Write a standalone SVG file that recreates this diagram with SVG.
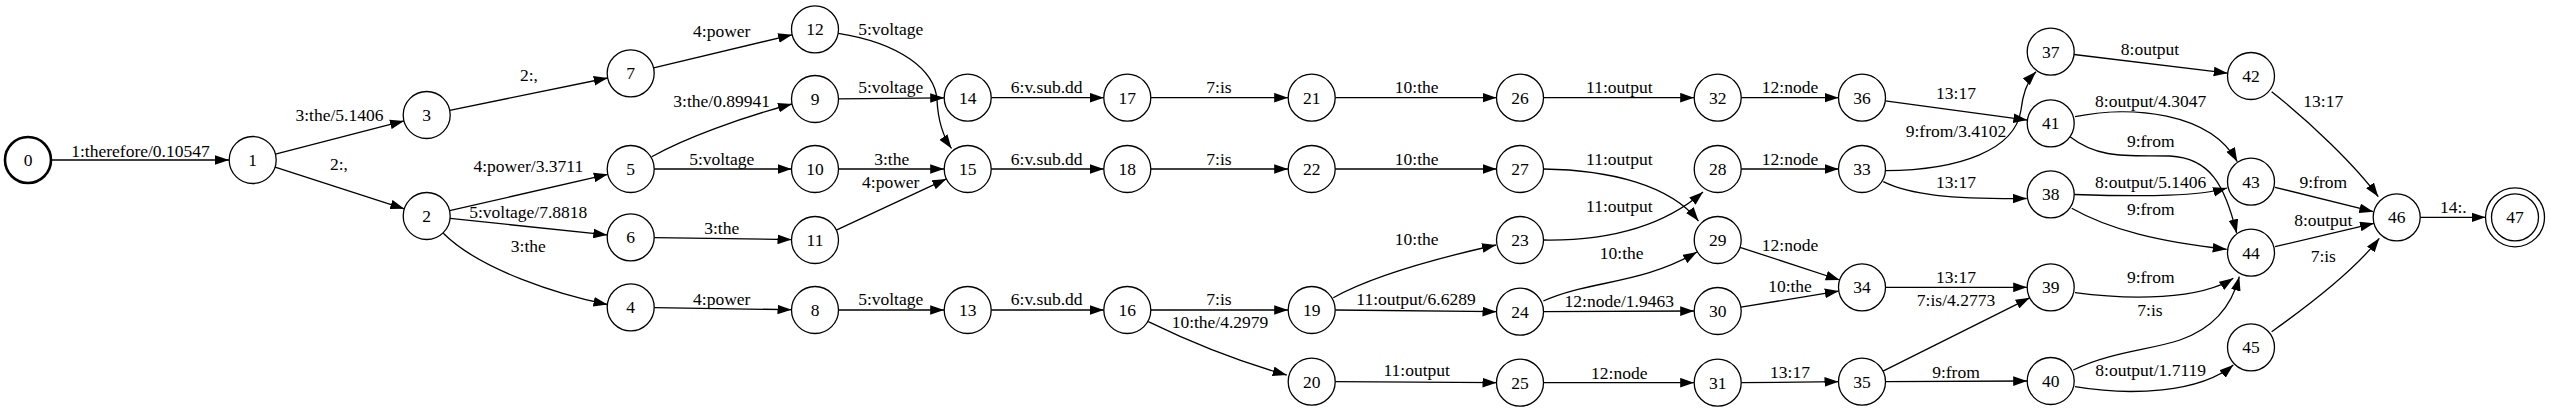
<svg xmlns="http://www.w3.org/2000/svg" width="2550" height="412" viewBox="0 0 2550 412">
<style>
text{font-family:"Liberation Serif","Times New Roman",serif;font-size:17.5px;text-anchor:middle;fill:#000}
.n circle{fill:#fff;stroke:#000;stroke-width:1.3}
.e path{fill:none;stroke:#000;stroke-width:1.3;marker-end:url(#a)}
</style>
<defs>
<marker id="a" markerUnits="userSpaceOnUse" markerWidth="14" markerHeight="10" refX="13" refY="4.5" orient="auto" viewBox="0 0 13 9"><path d="M0,0 L13,4.5 L0,9 Z" fill="#000"/></marker>
</defs>
<rect width="2550" height="412" fill="#fff"/>
<g id="edges" class="e">
<path d="M51.5,160 L229,160"/>
<path d="M275.4,154.1 L404,120.9"/>
<path d="M275.1,167.2 L404.3,208.8"/>
<path d="M449.7,110.3 L607.7,78"/>
<path d="M653.6,67.8 L792.1,34.8"/>
<path d="M449.6,210.7 L607.8,174.3"/>
<path d="M450.1,218.4 L607.3,234.9"/>
<path d="M443.3,233.3 C480,270 560,295 607.5,304.5"/>
<path d="M651.7,156.7 C685,138 740,118 792,104"/>
<path d="M654.2,169 L791.5,169"/>
<path d="M654.2,237.7 L791.5,239.6"/>
<path d="M654.2,307.6 L791.5,309.7"/>
<path d="M838.3,33.3 C900,43 935,70 937,100 C938,120 942,135 951.5,148.5"/>
<path d="M838.5,98.8 L944.2,97.9"/>
<path d="M838.5,169 L944.2,169"/>
<path d="M836.3,230.1 L946.4,178.9"/>
<path d="M838.5,310 L944.2,310"/>
<path d="M991.2,97.7 L1103.8,97.7"/>
<path d="M991.2,169 L1103.8,169"/>
<path d="M991.2,310 L1103.8,310"/>
<path d="M1150.8,97.7 L1288.2,97.7"/>
<path d="M1150.8,169 L1288.2,169"/>
<path d="M1150.8,310 L1288.2,310"/>
<path d="M1148.3,321.7 C1190,342 1240,362 1286.7,375"/>
<path d="M1335.2,97.7 L1496.5,97.7"/>
<path d="M1335.2,169 L1496.5,169"/>
<path d="M1333.3,297.7 C1365,280 1420,262 1496,245"/>
<path d="M1335.2,310 L1496.5,311.7"/>
<path d="M1335.2,381.7 L1496.5,382.7"/>
<path d="M1543.5,97.7 L1694.2,97.7"/>
<path d="M1543.5,169 C1610,170 1670,185 1698.5,221"/>
<path d="M1543.5,240 C1610,241 1665,225 1703,192"/>
<path d="M1543.3,301 C1590,280 1640,285 1697,252"/>
<path d="M1543.5,311.7 L1694.2,311"/>
<path d="M1543.5,382.7 L1694.2,382.7"/>
<path d="M1741.2,97.7 L1838.5,97.7"/>
<path d="M1741.2,169 L1838.5,169"/>
<path d="M1740,247.3 L1839.7,280"/>
<path d="M1740.9,307.2 L1838.8,291.1"/>
<path d="M1741.2,382.7 L1838.5,381.7"/>
<path d="M1885.3,100.8 L2027.4,120.1"/>
<path d="M1885.5,170.7 C1960,170 2015,150 2021,110 C2023,92 2028,80 2036,71.7"/>
<path d="M1883.3,181.7 C1910,195 1950,199 2026.7,198.5"/>
<path d="M1885.5,287.3 L2027.2,287.3"/>
<path d="M1883,371.2 L2029.7,297.8"/>
<path d="M1885.5,381.7 L2027.2,381"/>
<path d="M2074,54.5 L2227.7,73.2"/>
<path d="M2075,116.7 C2130,105 2210,112 2237.3,161.7"/>
<path d="M2070,136.7 C2100,160 2130,155 2170,156 C2210,158 2225,185 2236.7,233.3"/>
<path d="M2074.2,194.5 C2150,197 2200,196 2227,188"/>
<path d="M2071.7,208.3 C2110,230 2160,242 2226.7,249.3"/>
<path d="M2075,292.7 C2130,300 2200,300 2233.3,278.3"/>
<path d="M2073.3,370 C2110,352 2150,350 2180,340 C2215,328 2232,305 2239.3,276.7"/>
<path d="M2075,386.7 C2130,396 2200,393 2233.3,365"/>
<path d="M2271.7,91.7 C2310,122 2355,165 2378.3,196.7"/>
<path d="M2275,187.3 L2373.3,211.7"/>
<path d="M2275,246.7 L2374,223.3"/>
<path d="M2271.7,331.7 C2305,308 2355,270 2379.3,238.3"/>
<path d="M2420.2,217.3 L2485.5,217.3"/>
</g>
<g id="edge-labels">
<text x="140.5" y="157">1:therefore/0.10547</text>
<text x="339.5" y="121">3:the/5.1406</text>
<text x="339" y="170">2:,</text>
<text x="529" y="81">2:,</text>
<text x="721.7" y="37">4:power</text>
<text x="721.7" y="107">3:the/0.89941</text>
<text x="721.7" y="165">5:voltage</text>
<text x="528.3" y="171.7">4:power/3.3711</text>
<text x="528.3" y="218.3">5:voltage/7.8818</text>
<text x="528.3" y="251.7">3:the</text>
<text x="721.7" y="234.3">3:the</text>
<text x="721.7" y="305">4:power</text>
<text x="890.7" y="35">5:voltage</text>
<text x="890.7" y="93.3">5:voltage</text>
<text x="891.7" y="165">3:the</text>
<text x="890.7" y="188.3">4:power</text>
<text x="890.7" y="305">5:voltage</text>
<text x="1046.7" y="93.3">6:v.sub.dd</text>
<text x="1046.7" y="165">6:v.sub.dd</text>
<text x="1046.7" y="305">6:v.sub.dd</text>
<text x="1219" y="93.3">7:is</text>
<text x="1219" y="165">7:is</text>
<text x="1219" y="305">7:is</text>
<text x="1220" y="328.3">10:the/4.2979</text>
<text x="1416.7" y="93.3">10:the</text>
<text x="1416.7" y="165">10:the</text>
<text x="1416.7" y="245">10:the</text>
<text x="1416" y="305">11:output/6.6289</text>
<text x="1416.7" y="376">11:output</text>
<text x="1619.3" y="93.3">11:output</text>
<text x="1619.3" y="165">11:output</text>
<text x="1619.3" y="211.7">11:output</text>
<text x="1621.7" y="259.3">10:the</text>
<text x="1619.3" y="306.7">12:node/1.9463</text>
<text x="1619.3" y="379.3">12:node</text>
<text x="1790" y="93.3">12:node</text>
<text x="1790" y="165">12:node</text>
<text x="1790" y="250.7">12:node</text>
<text x="1790" y="291.7">10:the</text>
<text x="1790" y="377.7">13:17</text>
<text x="1956" y="99.3">13:17</text>
<text x="1956" y="136.7">9:from/3.4102</text>
<text x="1956" y="188.3">13:17</text>
<text x="1956" y="283.3">13:17</text>
<text x="1956" y="306">7:is/4.2773</text>
<text x="1956" y="377.7">9:from</text>
<text x="2150" y="55">8:output</text>
<text x="2150.7" y="107.3">8:output/4.3047</text>
<text x="2150.7" y="146.7">9:from</text>
<text x="2150.7" y="188.3">8:output/5.1406</text>
<text x="2150.7" y="215">9:from</text>
<text x="2150.7" y="282.7">9:from</text>
<text x="2150" y="316">7:is</text>
<text x="2150.7" y="376">8:output/1.7119</text>
<text x="2323.3" y="107.3">13:17</text>
<text x="2323.3" y="188.3">9:from</text>
<text x="2323.3" y="226">8:output</text>
<text x="2323.3" y="261.7">7:is</text>
<text x="2453.3" y="213.3">14:.</text>
</g>
<g id="n0" class="n"><circle cx="28" cy="160" r="23" style="stroke-width:2.6"/><text x="28" y="166">0</text></g>
<g id="n1" class="n"><circle cx="252.7" cy="160" r="23.5"/><text x="252.7" y="166">1</text></g>
<g id="n2" class="n"><circle cx="426.7" cy="216" r="23.5"/><text x="426.7" y="222">2</text></g>
<g id="n3" class="n"><circle cx="426.7" cy="115" r="23.5"/><text x="426.7" y="121">3</text></g>
<g id="n4" class="n"><circle cx="630.7" cy="307.3" r="23.5"/><text x="630.7" y="313.3">4</text></g>
<g id="n5" class="n"><circle cx="630.7" cy="169" r="23.5"/><text x="630.7" y="175">5</text></g>
<g id="n6" class="n"><circle cx="630.7" cy="237.3" r="23.5"/><text x="630.7" y="243.3">6</text></g>
<g id="n7" class="n"><circle cx="630.7" cy="73.3" r="23.5"/><text x="630.7" y="79.3">7</text></g>
<g id="n8" class="n"><circle cx="815" cy="310" r="23.5"/><text x="815" y="316">8</text></g>
<g id="n9" class="n"><circle cx="815" cy="99" r="23.5"/><text x="815" y="105">9</text></g>
<g id="n10" class="n"><circle cx="815" cy="169" r="23.5"/><text x="815" y="175">10</text></g>
<g id="n11" class="n"><circle cx="815" cy="240" r="23.5"/><text x="815" y="246">11</text></g>
<g id="n12" class="n"><circle cx="815" cy="29.3" r="23.5"/><text x="815" y="35.3">12</text></g>
<g id="n13" class="n"><circle cx="967.7" cy="310" r="23.5"/><text x="967.7" y="316">13</text></g>
<g id="n14" class="n"><circle cx="967.7" cy="97.7" r="23.5"/><text x="967.7" y="103.7">14</text></g>
<g id="n15" class="n"><circle cx="967.7" cy="169" r="23.5"/><text x="967.7" y="175">15</text></g>
<g id="n16" class="n"><circle cx="1127.3" cy="310" r="23.5"/><text x="1127.3" y="316">16</text></g>
<g id="n17" class="n"><circle cx="1127.3" cy="97.7" r="23.5"/><text x="1127.3" y="103.7">17</text></g>
<g id="n18" class="n"><circle cx="1127.3" cy="169" r="23.5"/><text x="1127.3" y="175">18</text></g>
<g id="n19" class="n"><circle cx="1311.7" cy="310" r="23.5"/><text x="1311.7" y="316">19</text></g>
<g id="n20" class="n"><circle cx="1311.7" cy="381.7" r="23.5"/><text x="1311.7" y="387.7">20</text></g>
<g id="n21" class="n"><circle cx="1311.7" cy="97.7" r="23.5"/><text x="1311.7" y="103.7">21</text></g>
<g id="n22" class="n"><circle cx="1311.7" cy="169" r="23.5"/><text x="1311.7" y="175">22</text></g>
<g id="n23" class="n"><circle cx="1520" cy="240" r="23.5"/><text x="1520" y="246">23</text></g>
<g id="n24" class="n"><circle cx="1520" cy="311.7" r="23.5"/><text x="1520" y="317.7">24</text></g>
<g id="n25" class="n"><circle cx="1520" cy="382.7" r="23.5"/><text x="1520" y="388.7">25</text></g>
<g id="n26" class="n"><circle cx="1520" cy="97.7" r="23.5"/><text x="1520" y="103.7">26</text></g>
<g id="n27" class="n"><circle cx="1520" cy="169" r="23.5"/><text x="1520" y="175">27</text></g>
<g id="n28" class="n"><circle cx="1717.7" cy="169" r="23.5"/><text x="1717.7" y="175">28</text></g>
<g id="n29" class="n"><circle cx="1717.7" cy="240" r="23.5"/><text x="1717.7" y="246">29</text></g>
<g id="n30" class="n"><circle cx="1717.7" cy="311" r="23.5"/><text x="1717.7" y="317">30</text></g>
<g id="n31" class="n"><circle cx="1717.7" cy="382.7" r="23.5"/><text x="1717.7" y="388.7">31</text></g>
<g id="n32" class="n"><circle cx="1717.7" cy="97.7" r="23.5"/><text x="1717.7" y="103.7">32</text></g>
<g id="n33" class="n"><circle cx="1862" cy="169" r="23.5"/><text x="1862" y="175">33</text></g>
<g id="n34" class="n"><circle cx="1862" cy="287.3" r="23.5"/><text x="1862" y="293.3">34</text></g>
<g id="n35" class="n"><circle cx="1862" cy="381.7" r="23.5"/><text x="1862" y="387.7">35</text></g>
<g id="n36" class="n"><circle cx="1862" cy="97.7" r="23.5"/><text x="1862" y="103.7">36</text></g>
<g id="n37" class="n"><circle cx="2050.7" cy="51.7" r="23.5"/><text x="2050.7" y="57.7">37</text></g>
<g id="n38" class="n"><circle cx="2050.7" cy="194.3" r="23.5"/><text x="2050.7" y="200.3">38</text></g>
<g id="n39" class="n"><circle cx="2050.7" cy="287.3" r="23.5"/><text x="2050.7" y="293.3">39</text></g>
<g id="n40" class="n"><circle cx="2050.7" cy="381" r="23.5"/><text x="2050.7" y="387">40</text></g>
<g id="n41" class="n"><circle cx="2050.7" cy="123.3" r="23.5"/><text x="2050.7" y="129.3">41</text></g>
<g id="n42" class="n"><circle cx="2251" cy="76" r="23.5"/><text x="2251" y="82">42</text></g>
<g id="n43" class="n"><circle cx="2251" cy="181.7" r="23.5"/><text x="2251" y="187.7">43</text></g>
<g id="n44" class="n"><circle cx="2251" cy="252.7" r="23.5"/><text x="2251" y="258.7">44</text></g>
<g id="n45" class="n"><circle cx="2251" cy="347.3" r="23.5"/><text x="2251" y="353.3">45</text></g>
<g id="n46" class="n"><circle cx="2396.7" cy="217.3" r="23.5"/><text x="2396.7" y="223.3">46</text></g>
<g id="n47" class="n"><circle cx="2515" cy="217.3" r="29.5"/><circle cx="2515" cy="217.3" r="23.5"/><text x="2515" y="223.3">47</text></g>
</svg>
